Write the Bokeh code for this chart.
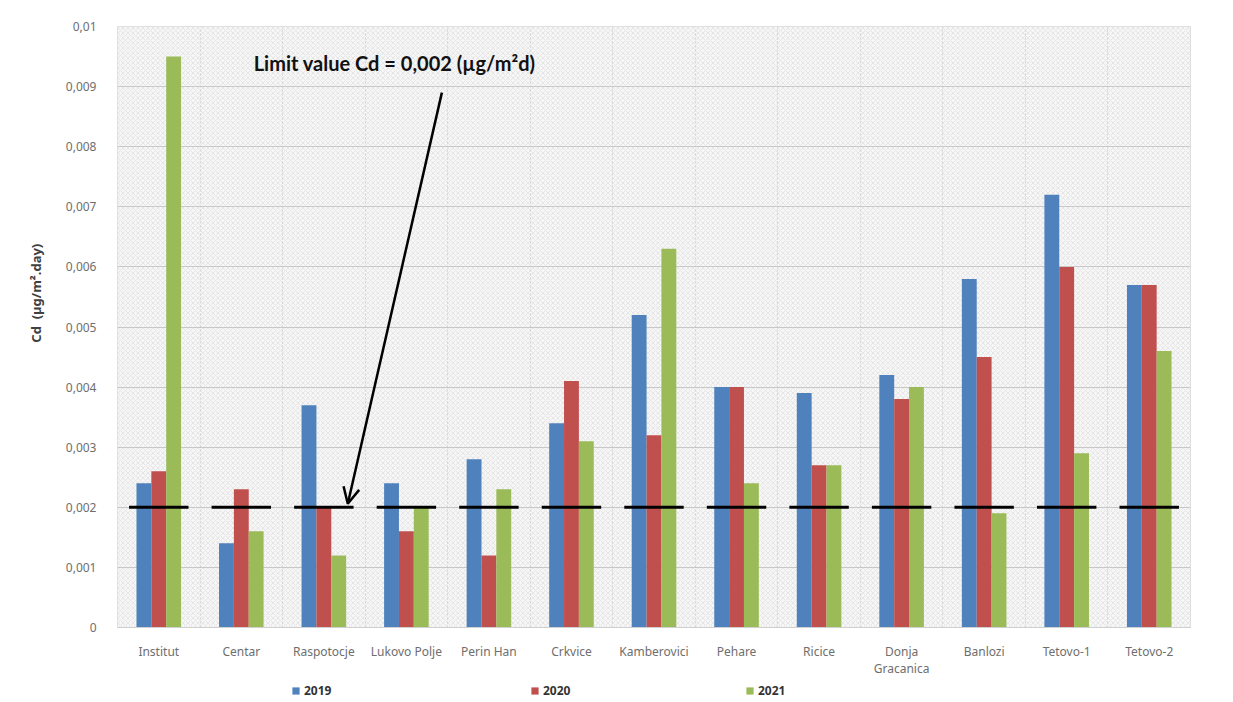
from bokeh.plotting import figure
from bokeh.layouts import column
from bokeh.models import (FactorRange, CustomJSTickFormatter, FixedTicker, BoxAnnotation,
                          Arrow, OpenHead, Label, Legend, LegendItem, ColumnDataSource)
from bokeh.transform import dodge
from bokeh.embed import file_html
from bokeh.resources import INLINE

categories = ["Institut", "Centar", "Raspotocje", "Lukovo Polje", "Perin Han", "Crkvice",
              "Kamberovici", "Pehare", "Ricice", "Donja\nGracanica", "Banlozi", "Tetovo-1", "Tetovo-2"]
y2019 = [0.0024, 0.0014, 0.0037, 0.0024, 0.0028, 0.0034, 0.0052, 0.0040, 0.0039, 0.0042, 0.0058, 0.0072, 0.0057]
y2020 = [0.0026, 0.0023, 0.0020, 0.0016, 0.0012, 0.0041, 0.0032, 0.0040, 0.0027, 0.0038, 0.0045, 0.0060, 0.0057]
y2021 = [0.0095, 0.0016, 0.0012, 0.0020, 0.0023, 0.0031, 0.0063, 0.0024, 0.0027, 0.0040, 0.0019, 0.0029, 0.0046]
limit = 0.002
limits = [limit] * len(categories)
years = ["2019", "2020", "2021"]
colors = ["#4F81BD", "#C0504D", "#9BBB59"]
y_ticks = [0, 0.001, 0.002, 0.003, 0.004, 0.005, 0.006, 0.007, 0.008, 0.009, 0.01]

src = ColumnDataSource(dict(cat=categories, y2019=y2019, y2020=y2020, y2021=y2021, lim=limits))

W = 1233
H_MAIN, H_LEG = 680, 22
p = figure(width=W, height=H_MAIN,
           x_range=FactorRange(*categories, range_padding=0),
           y_range=(0, 0.01), output_backend="svg", toolbar_location=None,
           min_border_left=117, min_border_right=43, min_border_top=26,
           min_border_bottom=H_MAIN - 627)
p.background_fill_color = "#f6f6f6"
p.border_fill_color = "white"
p.outline_line_color = "#d9d9d9"

bg = BoxAnnotation(fill_color="#f6f6f6", fill_alpha=1, line_alpha=0,
                   hatch_pattern="diagonal_cross", hatch_color="#dcdcdc", hatch_scale=5,
                   hatch_weight=0.6, level="image")
p.add_layout(bg)

bw = 0.18
for i, (yr, col) in enumerate(zip(years, colors)):
    p.vbar(x=dodge("cat", (i - 1) * bw, range=p.x_range), top="y" + yr, width=bw,
           source=src, fill_color=col, line_color=None)

p.rect(x="cat", y="lim", width=0.72, height=3, height_units="screen", source=src,
       fill_color="black", line_color=None)

# axes
p.yaxis.ticker = FixedTicker(ticks=y_ticks)
p.yaxis.formatter = CustomJSTickFormatter(code="""
    if (tick == 0) return "0";
    return parseFloat(tick.toFixed(4)).toString().replace('.', ',');
""")
p.yaxis.major_label_text_font = "Noto Sans"
p.yaxis.major_label_text_font_size = "12px"
p.yaxis.major_label_text_color = "#6e6e6e"
p.yaxis.axis_line_color = None
p.yaxis.major_tick_line_color = None
p.yaxis.minor_tick_line_color = None
p.yaxis.major_label_standoff = 15
p.yaxis.axis_label = "\u00a0" * 20 + "Cd\u00a0\u00a0(µg/m².day)"
p.yaxis.axis_label_text_font = "Noto Sans"
p.yaxis.axis_label_text_font_style = "bold"
p.yaxis.axis_label_text_font_size = "13px"
p.yaxis.axis_label_text_color = "#404040"
p.yaxis.axis_label_standoff = 18

p.xaxis.major_label_text_font = "Noto Sans"
p.xaxis.major_label_text_font_size = "12px"
p.xaxis.major_label_text_color = "#6e6e6e"
p.xaxis.major_label_text_line_height = 1.0
p.xaxis.axis_line_color = "#d0d0d0"
p.xaxis.major_tick_line_color = None
p.xaxis.minor_tick_line_color = None
p.xaxis.major_tick_out = 0
p.xaxis.major_label_standoff = 15

p.ygrid.ticker = FixedTicker(ticks=y_ticks)
p.ygrid.grid_line_color = "#c8c8c8"
p.xgrid.ticker = FixedTicker(ticks=list(range(1, len(categories))))
p.xgrid.grid_line_color = "#d4d4d4"
p.xgrid.grid_line_dash = "2 2"

# annotation
p.add_layout(Label(x=1.65, y=0.0094, text="Limit value Cd = 0,002 (µg/m²d)",
                   text_font="Lato", text_font_style="bold", text_font_size="20px",
                   text_color="#111111", text_baseline="middle"))
p.add_layout(Arrow(x_start=3.93, y_start=0.0089, x_end=2.79, y_end=0.00206,
                   line_width=2.5, line_color="black",
                   end=OpenHead(size=16, line_width=2.5, line_color="black")))

# legend strip (separate small figure so the legend is not clipped);
# the key renderers hold one point outside the strip's visible range
q = figure(width=W, height=H_LEG, x_range=(0, 1), y_range=(0, 1),
           output_backend="svg", toolbar_location=None, x_axis_type=None, y_axis_type=None,
           min_border_left=117, min_border_right=43, min_border_top=0, min_border_bottom=0)
q.outline_line_color = None
q.grid.visible = False
q.background_fill_color = "white"
leg_x = [174, 413, 628]
for yr, col, lx in zip(years, colors, leg_x):
    r = q.vbar(x=[-5], top=[-5], bottom=[-6], width=0.1, fill_color=col, line_color=None)
    lg = Legend(items=[LegendItem(label=yr, renderers=[r])], location=(lx, 3),
                orientation="horizontal", glyph_width=9, glyph_height=9, label_standoff=4,
                label_height=12, padding=0, margin=0, border_line_color=None,
                background_fill_alpha=0,
                label_text_font="Noto Sans", label_text_font_style="bold",
                label_text_font_size="12px", label_text_color="#333333")
    q.add_layout(lg, "center")

layout = column(p, q, spacing=0)
open("out.html", "w").write(file_html(layout, INLINE))
